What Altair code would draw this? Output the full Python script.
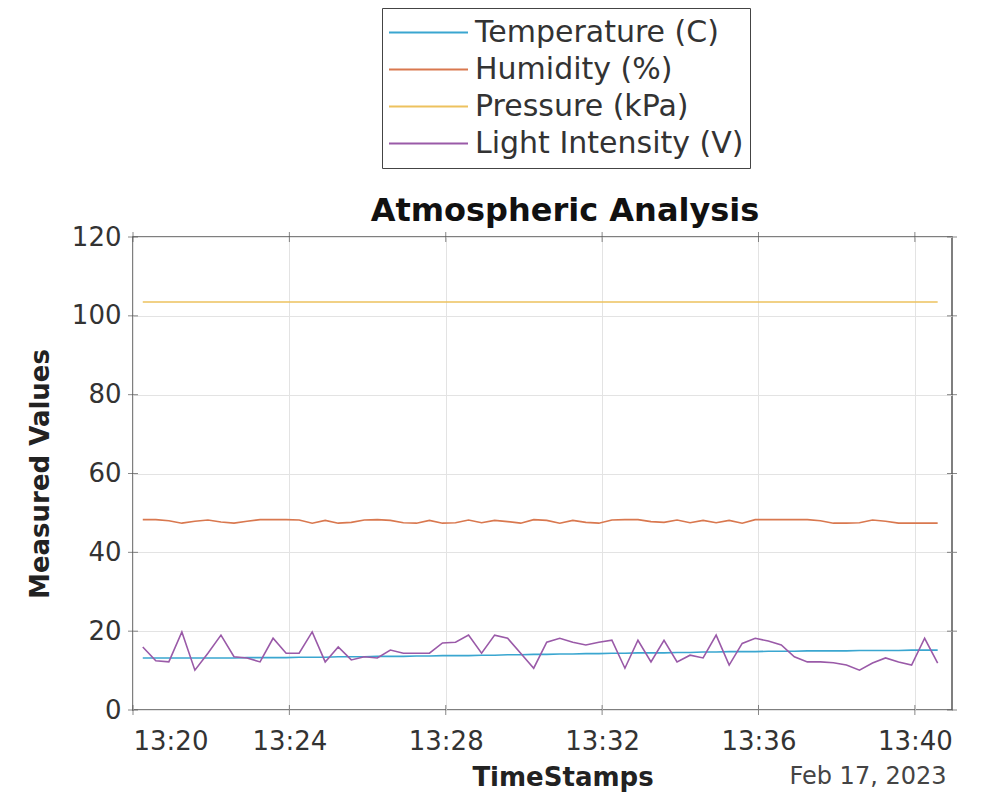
import altair as alt
import pandas as pd

series_names = ["Temperature (C)", "Humidity (%)", "Pressure (kPa)", "Light Intensity (V)"]
series_colors = ["#3aa6d0", "#d9784f", "#edc25e", "#9a5aa8"]

times = pd.date_range("2023-02-17 13:20:15", periods=62, freq="20s").strftime("%Y-%m-%dT%H:%M:%S").tolist()

temperature = [
    13.2, 13.2, 13.2, 13.2, 13.2, 13.2, 13.2, 13.2, 13.3, 13.3,
    13.3, 13.3, 13.4, 13.4, 13.4, 13.5, 13.5, 13.5, 13.6, 13.6,
    13.6, 13.7, 13.7, 13.8, 13.8, 13.8, 13.9, 13.9, 14.0, 14.0,
    14.1, 14.1, 14.2, 14.2, 14.3, 14.3, 14.4, 14.4, 14.5, 14.5,
    14.5, 14.6, 14.6, 14.7, 14.7, 14.8, 14.8, 14.8, 14.9, 14.9,
    14.9, 15.0, 15.0, 15.0, 15.0, 15.1, 15.1, 15.1, 15.1, 15.2,
    15.2, 15.2,
]
humidity = [
    48.3, 48.3, 48.0, 47.4, 47.9, 48.2, 47.7, 47.4, 47.9, 48.3,
    48.3, 48.3, 48.2, 47.4, 48.1, 47.4, 47.6, 48.2, 48.3, 48.1,
    47.5, 47.4, 48.1, 47.4, 47.5, 48.2, 47.5, 48.1, 47.8, 47.4,
    48.3, 48.1, 47.4, 48.1, 47.6, 47.4, 48.2, 48.3, 48.3, 47.8,
    47.6, 48.2, 47.5, 48.1, 47.5, 48.1, 47.4, 48.3, 48.3, 48.3,
    48.3, 48.3, 48.0, 47.4, 47.4, 47.5, 48.2, 47.9, 47.4, 47.4,
    47.4, 47.4,
]
pressure = [103.5] * 62
light = [
    16.0, 12.5, 12.2, 19.8, 10.1, 14.4, 19.0, 13.5, 13.2, 12.2,
    18.2, 14.4, 14.4, 19.8, 12.2, 16.0, 12.7, 13.5, 13.2, 15.2,
    14.4, 14.4, 14.4, 17.0, 17.2, 19.0, 14.4, 19.0, 18.2, 14.4,
    10.6, 17.2, 18.2, 17.2, 16.5, 17.2, 17.7, 10.6, 17.7, 12.2,
    17.7, 12.2, 13.9, 13.2, 19.0, 11.4, 16.9, 18.2, 17.5, 16.5,
    13.5, 12.2, 12.2, 12.0, 11.4, 10.1, 11.9, 13.2, 12.2, 11.4,
    18.2, 11.9,
]

x_tick_times = ["2023-02-17T13:20:00", "2023-02-17T13:24:00", "2023-02-17T13:28:00",
                "2023-02-17T13:32:00", "2023-02-17T13:36:00", "2023-02-17T13:40:00"]
y_tick_values = [0, 20, 40, 60, 80, 100, 120]

rows = []
for name, vals in zip(series_names, [temperature, humidity, pressure, light]):
    for t, v in zip(times, vals):
        rows.append({"time": t, "value": v, "series": name})
df = pd.DataFrame(rows)

W, H = 819, 473
FONT = "DejaVu Sans"

def dt(m, s=0):
    return alt.DateTime(year=2023, month=2, date=17, hours=13, minutes=m, seconds=s)

xscale = alt.Scale(domain=[dt(20), dt(40, 57)])
yscale = alt.Scale(domain=[0, 120], nice=False)
x_axis = alt.Axis(values=[dt(m) for m in [20, 24, 28, 32, 36, 40]], format="%H:%M",
                  title="TimeStamps", titleX=W / 2 + 20, grid=True, labelPadding=18, titlePadding=10)
y_axis = alt.Axis(values=y_tick_values, title="Measured Values", grid=True,
                  labelPadding=12, titlePadding=18)

x_enc = alt.X("time:T", scale=xscale, axis=x_axis)
y_enc = alt.Y("value:Q", scale=yscale, axis=y_axis)

lines = alt.Chart(df).mark_line(strokeWidth=1.6).encode(
    x=x_enc,
    y=y_enc,
    color=alt.Color("series:N",
                    scale=alt.Scale(domain=series_names, range=series_colors),
                    sort=series_names,
                    legend=alt.Legend(orient="none", legendX=249, legendY=-229, title=None,
                                      symbolType="stroke", symbolSize=6241, symbolStrokeWidth=1.8,
                                      labelFontSize=30, labelFont=FONT, labelColor="#333333",
                                      strokeColor="#444444", fillColor="white", padding=6,
                                      clipHeight=37, rowPadding=0, labelOffset=6, labelLimit=500)),
    order=alt.Order("time:T"),
)

xt = pd.DataFrame({"time": x_tick_times})
yt = pd.DataFrame({"value": y_tick_values})
xt_bottom = alt.Chart(xt).mark_tick(size=10, thickness=1, color="#555555").encode(x=x_enc, y=alt.value(H))
xt_top = alt.Chart(xt).mark_tick(size=10, thickness=1, color="#555555").encode(x=x_enc, y=alt.value(0))
yt_left = alt.Chart(yt).mark_tick(size=10, thickness=1, color="#555555").encode(y=y_enc, x=alt.value(0))
yt_right = alt.Chart(yt).mark_tick(size=10, thickness=1, color="#555555").encode(y=y_enc, x=alt.value(W))

date_txt = alt.Chart(pd.DataFrame({"t": ["Feb 17, 2023"]})).mark_text(
    font=FONT, fontSize=24, color="#444444", align="center", baseline="middle"
).encode(text="t:N", x=alt.value(735), y=alt.value(540))

title_txt = alt.Chart(pd.DataFrame({"t": ["Atmospheric Analysis"]})).mark_text(
    font=FONT, fontSize=32, fontWeight="bold", color="#111111", align="center", baseline="alphabetic"
).encode(text="t:N", x=alt.value(432), y=alt.value(-16))

chart = alt.layer(lines, xt_bottom, xt_top, yt_left, yt_right, date_txt, title_txt).properties(
    width=W, height=H,
    padding={"left": 125, "top": 229, "right": 39, "bottom": 84},
    autosize=alt.AutoSizeParams(type="none"),
).configure_axis(
    labelFont=FONT, labelFontSize=26, labelColor="#333333",
    titleFont=FONT, titleFontSize=26, titleFontWeight="bold", titleColor="#222222",
    gridColor="#e3e3e3", gridWidth=1, domain=False, ticks=False,
).configure_view(stroke="#555555", strokeWidth=1.5)

chart.save("out.html", embed_options={"renderer": "svg", "actions": False})
